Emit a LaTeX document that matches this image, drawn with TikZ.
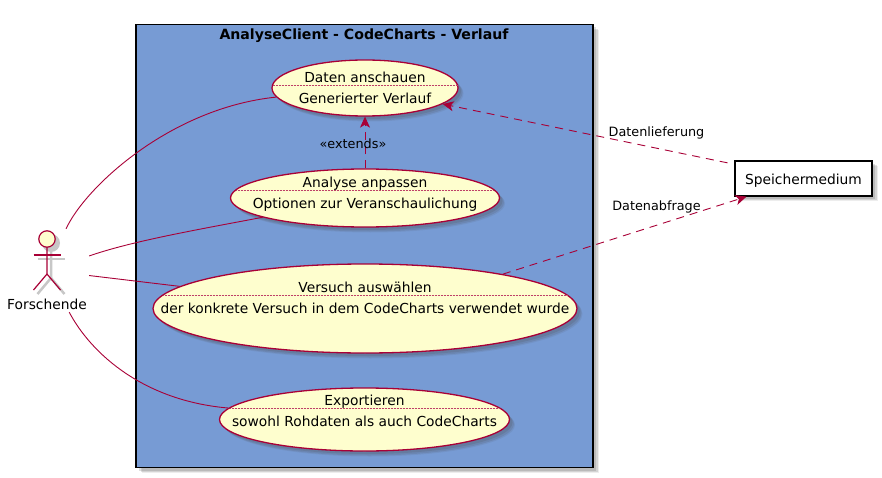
\documentclass[tikz,border=0pt]{standalone}
\usepackage{fontspec}
\setmainfont{DejaVu Sans}
\usetikzlibrary{shapes.geometric,shadows,arrows.meta}
\definecolor{umlred}{HTML}{A80036}
\definecolor{umlyellow}{HTML}{FEFECE}
\definecolor{umlblue}{HTML}{779BD4}
\tikzset{
	softshadow/.style={
		general shadow={shadow xshift=5.5pt,shadow yshift=-5.5pt,fill=black!70,opacity=.10},
		general shadow={shadow xshift=4.5pt,shadow yshift=-4.5pt,fill=black!70,opacity=.16},
		general shadow={shadow xshift=3pt,shadow yshift=-3pt,fill=black!70,opacity=.18}
	},
	usecase/.style={ellipse,draw=umlred,fill=umlyellow,line width=1.3pt,inner sep=0pt,softshadow},
	casetext/.style={inner sep=0pt,text height=14.5pt,text depth=3pt,font=\fontsize{13.8}{16}\selectfont},
	edgetext/.style={inner sep=0pt,text height=14pt,text depth=3pt,font=\fontsize{12.8}{15}\selectfont},
	sepline/.style={draw=umlred!75,line width=.5pt,densely dotted},
	assoc/.style={draw=umlred,line width=.9pt},
	dep/.style={draw=umlred,line width=.9pt,dash pattern=on 8pt off 6pt,-{Stealth[length=11pt,width=10pt,inset=3pt]}}
}
\begin{document}
\begin{tikzpicture}[
		x=1pt,
		y=-1pt,
		line cap=butt
		]
		\useasboundingbox (0,0) rectangle (882,478);
		% system frame
		\node[draw=black,fill=umlblue,line width=1.6pt,inner sep=0pt,minimum width=457pt,minimum height=443pt,softshadow] (frame) at (364.5,246) {};
		\node[casetext,font=\fontsize{14.1}{16}\selectfont\bfseries] (frametitle) at (364,34) {AnalyseClient - CodeCharts - Verlauf};
		% use cases
		\node[usecase,minimum width=186pt,minimum height=56pt] (anschauen) at (365,88) {};
		\node[usecase,minimum width=269pt,minimum height=58pt] (anpassen) at (365,198) {};
		\node[usecase,minimum width=424pt,minimum height=89pt] (auswahl) at (365,308.5) {};
		\node[usecase,minimum width=290pt,minimum height=63pt] (export) at (364.5,419.5) {};
		\draw[sepline] (272.5,85) -- (457.5,85);
		\draw[sepline] (236,190) -- (494,190);
		\draw[sepline] (163,295) -- (567,295);
		\draw[sepline] (230,408) -- (499,408);
		\node[casetext] (anschauentop) at (365,77) {Daten anschauen};
		\node[casetext] (anschauensub) at (365,98) {Generierter Verlauf};
		\node[casetext] (anpassentop) at (365,182) {Analyse anpassen};
		\node[casetext] (anpassensub) at (365,203) {Optionen zur Veranschaulichung};
		\node[casetext] (auswahltop) at (365,287) {Versuch auswählen};
		\node[casetext] (auswahlsub) at (365,308) {der konkrete Versuch in dem CodeCharts verwendet wurde};
		\node[casetext] (exporttop) at (364.5,400) {Exportieren};
		\node[casetext] (exportsub) at (364.5,421) {sowohl Rohdaten als auch CodeCharts};
		% storage
		\node[draw=black,fill=white,line width=1.3pt,inner sep=0pt,minimum width=137pt,minimum height=35pt,softshadow,casetext] (speicher) at (803.5,178.5) {Speichermedium};
		% actor figure, with its shadow first
		\node[inner sep=0pt,minimum width=84pt,minimum height=83pt] (actor) at (47,270.5) {};
		\begin{scope}[xshift=4pt,yshift=-4pt,draw=black!22,line width=2.5pt]
		\draw (47,247) -- (47,274) -- (33.5,290);
		\draw (47,274) -- (60.5,290);
		\draw (33.5,255) -- (60.5,255);
		\fill[black!22] (47,239) circle (9pt);
		\end{scope}
		\begin{scope}[draw=umlred,line width=1.2pt]
		\draw (47,247) -- (47,274) -- (33.5,290);
		\draw (47,274) -- (60.5,290);
		\draw (33.5,255) -- (60.5,255);
		\draw[fill=umlyellow] (47,239) circle (8.2pt);
		\end{scope}
		\node[casetext] (forschende) at (47,304) {Forschende};
		% associations
		\draw[assoc] (actor) .. controls (85,187.5) and (170,108) .. (anschauen);
		\draw[assoc] (actor) .. controls (131,241.5) and (190,231) .. (anpassen);
		\draw[assoc] (actor) -- (auswahl);
		\draw[assoc] (actor) .. controls (92,355) and (145,401) .. (export);
		% dependencies
		\draw[dep] (anpassen) -- (anschauen);
		\node[edgetext] (extends) at (353,143) {«extends»};
		\draw[dep,shorten <=7pt] (speicher) -- (anschauen);
		\node[edgetext] (lieferung) at (656.5,131) {Datenlieferung};
		\draw[dep] (auswahl.14) -- (speicher);
		\node[edgetext] (abfrage) at (656.5,205) {Datenabfrage};
		\end{tikzpicture}
\end{document}
